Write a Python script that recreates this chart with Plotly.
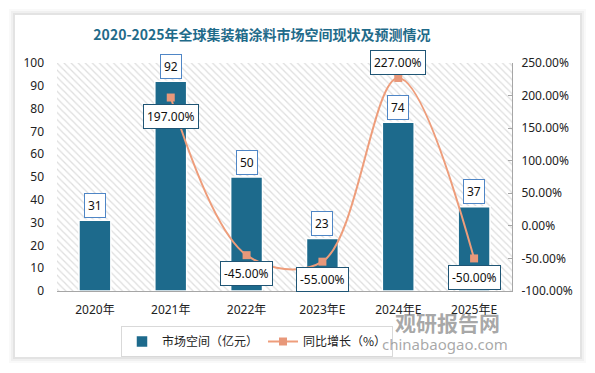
import plotly.graph_objects as go

categories = ["2020年", "2021年", "2022年", "2023年E", "2024年E", "2025年E"]
market = [31, 92, 50, 23, 74, 37]
growth_cats = ["2021年", "2022年", "2023年E", "2024年E", "2025年E"]
growth = [197.0, -45.0, -55.0, 227.0, -50.0]
left_ticks = list(range(0, 101, 10))
right_ticks = list(range(-100, 251, 50))

title_text = "2020-2025年全球集装箱涂料市场空间现状及预测情况"
bar_name = "市场空间（亿元）"
line_name = "同比增长（%）"

# layout geometry (pixels)
W, H = 595, 373
L, R, T, B = 57, 83, 63, 82
PW, PH = W - L - R, H - T - B

def px_x(px):
    return (px - L) / PW

def px_y(py):
    return (H - B - py) / PH

idx = list(range(len(categories)))
gidx = [categories.index(c) for c in growth_cats]

BAR = "#1d6a8c"
LINE = "#ee9d7b"
FONT = "Noto Sans, Noto Sans CJK SC, sans-serif"

fig = go.Figure()

# hatched plot-area background
fig.add_trace(go.Bar(
    x=[(idx[0] + idx[-1]) / 2], y=[left_ticks[-1]], width=[len(idx)],
    marker=dict(color="white", line=dict(width=0),
                pattern=dict(shape="\\", fgcolor="#bdbdbd", bgcolor="white", size=5, solidity=0.25)),
    showlegend=False, hoverinfo="skip", yaxis="y"))

fig.add_trace(go.Bar(
    x=idx, y=market, width=0.42, name=bar_name,
    marker=dict(color=BAR, line=dict(color="white", width=1.5)), yaxis="y"))

fig.add_trace(go.Scatter(
    x=gidx, y=growth, name=line_name, yaxis="y2", mode="lines+markers",
    line=dict(color=LINE, width=2, shape="spline", smoothing=1.0),
    marker=dict(symbol="square", size=8, color="#e8987a")))

ann = []
for i, v in zip(idx, market):
    ann.append(dict(x=i, y=v, xref="x", yref="y", text=str(v), showarrow=False,
                    yanchor="middle", yshift=15, bgcolor="white", bordercolor="#4f86c6",
                    borderwidth=1, borderpad=3, font=dict(size=12, color="#111", family=FONT)))
label_shift = {"2021年": -19, "2022年": -18, "2023年E": -18, "2024年E": 15, "2025年E": -19}
for c, i, g in zip(growth_cats, gidx, growth):
    ann.append(dict(x=i, y=g, xref="x", yref="y2", text=f"{g:.2f}%", showarrow=False,
                    yanchor="middle", yshift=label_shift[c], bgcolor="white", bordercolor="#1f5575",
                    borderwidth=1, borderpad=3, font=dict(size=12, color="#111", family=FONT)))

# watermark
ann.append(dict(x=px_x(447), y=px_y(322), xref="paper", yref="paper", text="<b>观研报告网</b>",
                xanchor="center", yanchor="middle", showarrow=False,
                font=dict(size=21, color="rgba(110,110,110,0.6)", family="Noto Sans CJK SC")))
ann.append(dict(x=px_x(445), y=px_y(344), xref="paper", yref="paper", text="chinabaogao.com",
                xanchor="center", yanchor="middle", showarrow=False,
                font=dict(size=15, color="rgba(110,110,110,0.6)", family="Noto Sans")))

shapes = []
# card shadow
for k, a in [(6, 0.025), (4, 0.035), (2, 0.05)]:
    shapes.append(dict(type="rect", xref="paper", yref="paper", layer="below",
                       x0=px_x(15 - k), x1=px_x(580 + k), y0=px_y(357 + k), y1=px_y(15 - k),
                       line=dict(width=0), fillcolor=f"rgba(0,0,0,{a})"))
shapes.append(dict(type="rect", xref="paper", yref="paper", layer="below",
                   x0=px_x(15), x1=px_x(580), y0=px_y(357), y1=px_y(15),
                   line=dict(width=0), fillcolor="white"))

fig.update_layout(
    width=W, height=H, margin=dict(l=L, r=R, t=T, b=B, autoexpand=False),
    paper_bgcolor="white", plot_bgcolor="rgba(0,0,0,0)",
    barmode="overlay", font=dict(family=FONT, size=12, color="#222"),
    title=dict(text="<b>" + title_text + "</b>", x=262 / W, y=1 - 35 / H, xanchor="center",
               yanchor="middle", font=dict(size=14, color="#1f6b8a", family="Noto Sans CJK SC")),
    xaxis=dict(tickvals=idx, ticktext=categories, range=[idx[0] - 0.5, idx[-1] + 0.5],
               showline=True, linecolor="#a6a6a6", linewidth=1, ticks="", showgrid=False,
               ticklabelstandoff=8,
               zeroline=False, automargin=False, tickfont=dict(size=12, color="#222", family=FONT)),
    yaxis=dict(range=[left_ticks[0], left_ticks[-1]], tickvals=left_ticks, showgrid=False,
               zeroline=False, showline=False, ticks="", automargin=False, ticklabelstandoff=12,
               tickfont=dict(size=12, color="#222")),
    yaxis2=dict(range=[right_ticks[0], right_ticks[-1]], tickvals=right_ticks,
                ticktext=[f"{v:.2f}%" for v in right_ticks], overlaying="y",
                side="right", showgrid=False, zeroline=False, automargin=False,
                showline=True, linecolor="#a6a6a6", ticks="inside", ticklen=4, tickcolor="#a6a6a6",
                ticklabelstandoff=6,
                tickfont=dict(size=12, color="#222")),
    legend=dict(orientation="h", xref="container", yref="container", x=257 / W, y=1 - 326 / H,
                xanchor="center", yanchor="top",
                bordercolor="#d9d9d9", borderwidth=1, bgcolor="rgba(255,255,255,0)",
                font=dict(size=12, color="#222", family="Noto Sans CJK SC")),
    annotations=ann, shapes=shapes, showlegend=True,
)

fig.write_html("out.html", config={"displayModeBar": False},
               post_script="document.body.style.margin='0px';document.body.style.overflow='hidden';")
